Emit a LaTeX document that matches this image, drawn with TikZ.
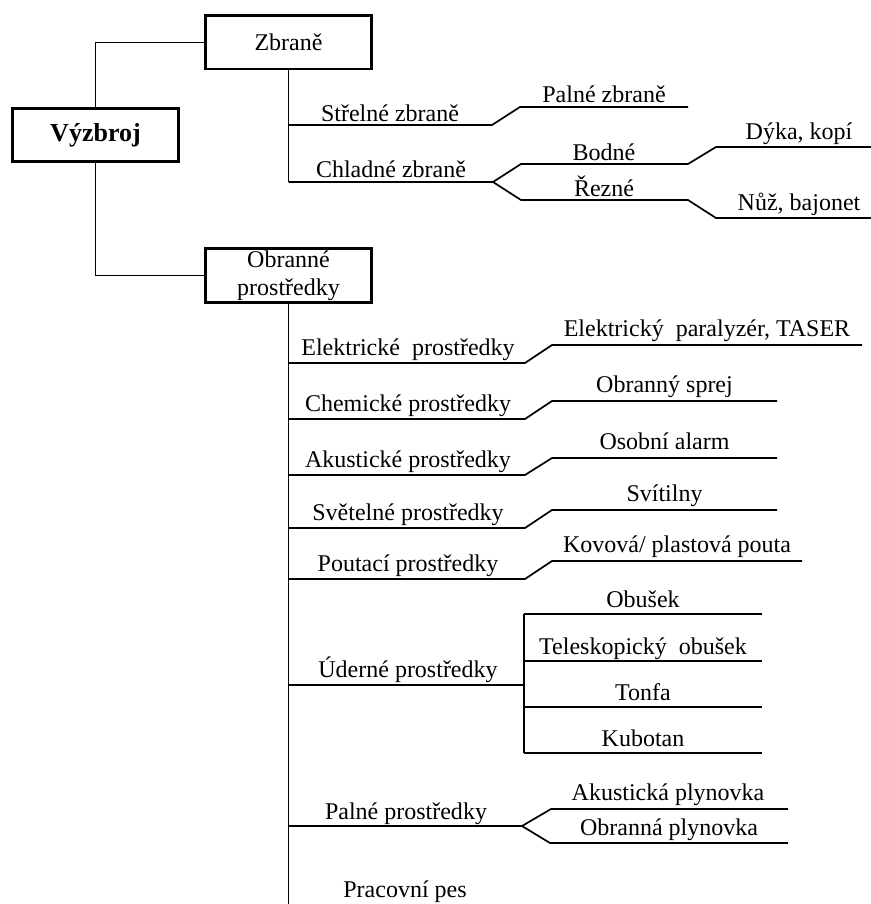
\documentclass[tikz,border=0pt]{standalone}
\usepackage{fontspec}
\setmainfont{Liberation Serif}
\begin{document}
\begin{tikzpicture}[x=0.5pt, y=-0.5pt, line width=0.85pt,
    every node/.style={font=\fontsize{12}{13}\selectfont},
    box/.style={draw, line width=1.4pt, minimum width=83pt, minimum height=26.6pt, inner sep=1pt, align=center},
    lbl/.style={anchor=base, inner sep=0pt}]
\useasboundingbox (0,0) rectangle (871,904);
% boxes
\node[box, font=\fontsize{13}{15}\selectfont\bfseries] (vyzbroj) at (95.5,135) {Výzbroj};
\node[box] (zbrane) at (288.5,42.5) {Zbraně};
\node[box, font=\fontsize{12}{14}\selectfont] (obranne) at (288.5,275.5) {Obranné\\prostředky};
\draw (vyzbroj.north) |- (zbrane.west);
\draw (vyzbroj.south) |- (obranne.west);
% zbrane
\coordinate (z1) at (288.5,125);
\coordinate (z2) at (288.5,182);
\coordinate (z1e) at (688,107);
\coordinate (bode) at (871,147);
\coordinate (reze) at (871,218);
\node[lbl] (strelne) at (390,121) {Střelné zbraně};
\node[lbl] (palne) at (604,103) {Palné zbraně};
\node[lbl] (chladne) at (391,177) {Chladné zbraně};
\node[lbl] (bodne) at (604,160) {Bodné};
\node[lbl] (rezne) at (604,196) {Řezné};
\node[lbl] (dyka) at (799,140) {Dýka, kopí};
\node[lbl] (nuz) at (799,210) {Nůž, bajonet};
\draw (zbrane.south) -- (z2);
\draw (z1) -- (492,125) -- (520,107) -- (z1e);
\draw (z2) -- (493,182) -- (521,164) -- (688,164) -- (716,147) -- (bode);
\draw (493,182) -- (521,200) -- (688,200) -- (716,218) -- (reze);
% obranne prostredky
\coordinate (dno) at (288.5,904);
\draw (obranne.south) -- (dno);
\foreach \i/\y/\t/\yy/\u/\e in {1/363/{Elektrické~ prostředky}/345/{Elektrický~ paralyzér, TASER}/862,
    2/419/{Chemické prostředky}/401/{Obranný sprej}/777,
    3/475/{Akustické prostředky}/458/{Osobní alarm}/777,
    4/528/{Světelné prostředky}/510/{Svítilny}/777,
    5/579/{Poutací prostředky}/561/{Kovová/ plastová pouta}/802}
    {\coordinate (s\i) at (288.5,\y);
     \coordinate (a\i) at (525,\y);
     \coordinate (b\i) at (552,\yy);
     \coordinate (c\i) at (\e,\yy);
     \node[lbl] (p\i) at (408,\y-8) {\t};
     \node[lbl] (q\i) at ({(552+\e)/2},\yy-9) {\u};
     \draw (s\i) -- (a\i) -- (b\i) -- (c\i);};
% uderne
\coordinate (s6) at (288.5,685);
\coordinate (a6) at (524,685);
\node[lbl] (p6) at (408,677) {Úderné prostředky};
\draw (s6) -- (a6);
\foreach \j/\y/\t in {1/614/Obušek, 2/661/{Teleskopický~ obušek}, 3/707/Tonfa, 4/753/Kubotan}
    {\coordinate (u\j) at (524,\y);
     \coordinate (v\j) at (762,\y);
     \node[lbl] (w\j) at (643,\y-7) {\t};
     \draw (u\j) -- (v\j);};
\draw (u1) -- (u4);
% palne
\coordinate (s7) at (288.5,826);
\coordinate (a7) at (522,826);
\coordinate (b7) at (551,809);
\coordinate (c7) at (788,809);
\coordinate (d7) at (550,843);
\coordinate (e7) at (788,843);
\node[lbl] (p7) at (406,819) {Palné prostředky};
\node[lbl] (q7) at (668,800) {Akustická plynovka};
\node[lbl] (r7) at (669,835) {Obranná plynovka};
\draw (s7) -- (a7) -- (b7) -- (c7);
\draw (a7) -- (d7) -- (e7);
\node[lbl] (p8) at (405,897) {Pracovní pes};
\end{tikzpicture}
\end{document}
